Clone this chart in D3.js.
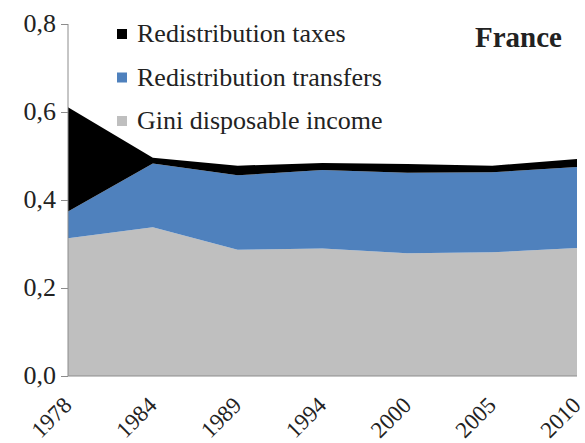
<!DOCTYPE html>
<html>
<head>
<meta charset="utf-8">
<script src="https://cdn.jsdelivr.net/npm/d3@7"></script>
<style>
body { margin: 0; background: #fff; }
text { font-family: "Liberation Serif", "DejaVu Serif", serif; fill: #222; }
</style>
</head>
<body>
<div class="chart"></div>
<script>
var width = 585;
var height = 443;

var years = ["1978", "1984", "1989", "1994", "2000", "2005", "2010"];
var giniDisposable = [0.313, 0.338, 0.287, 0.290, 0.279, 0.281, 0.291];
var redistTransfers = [0.061, 0.145, 0.169, 0.178, 0.183, 0.182, 0.184];
var redistTaxes = [0.237, 0.013, 0.022, 0.016, 0.020, 0.015, 0.018];
var yTicks = [0, 0.2, 0.4, 0.6, 0.8];
var seriesNames = ["Gini disposable income", "Redistribution transfers", "Redistribution taxes"];
var seriesColors = ["#bfbfbf", "#4f81bd", "#000000"];

var plotLeft = 68, plotRight = 577, plotTop = 24, plotBottom = 376;

var x = d3.scalePoint().domain(years).range([plotLeft, plotRight]);
var y = d3.scaleLinear().domain([0, 0.8]).range([plotBottom, plotTop]);

var rows = years.map(function(yr, i) {
    return { year: yr, gini: giniDisposable[i], transfers: redistTransfers[i], taxes: redistTaxes[i] };
});
var stack = d3.stack().keys(["gini", "transfers", "taxes"]);
var layers = stack(rows);

var svg = d3.select(".chart")
    .append("svg")
    .attr("width", width)
    .attr("height", height);

var area = d3.area()
    .x(function(d) { return x(d.data.year); })
    .y0(function(d) { return y(d[0]); })
    .y1(function(d) { return y(d[1]); });

svg.selectAll(".layer")
    .data(layers)
    .enter().append("path")
    .attr("class", "layer")
    .attr("d", area)
    .attr("fill", function(d, i) { return seriesColors[i]; });

// y axis
var yAxis = d3.axisLeft(y)
    .tickValues(yTicks)
    .tickSize(7)
    .tickFormat(function(d) { return d3.format(".1f")(d).replace(".", ","); });

var yG = svg.append("g")
    .attr("transform", "translate(" + plotLeft + ",0)")
    .call(yAxis);
yG.select(".domain").attr("stroke", "#8c8c8c").attr("d", "M0," + plotTop + "V" + plotBottom);
yG.selectAll(".tick line").attr("stroke", "#8c8c8c");
yG.selectAll(".tick text")
    .attr("x", -12)
    .attr("dy", "0.3em")
    .style("font-size", "26px")
    .style("font-family", "Liberation Serif, serif")
    .attr("fill", "#222");

// x axis
var xAxis = d3.axisBottom(x).tickSize(0);
var xG = svg.append("g")
    .attr("transform", "translate(0," + plotBottom + ")")
    .call(xAxis);
xG.select(".domain").attr("stroke", "#8c8c8c").attr("d", "M" + plotLeft + ",0H" + plotRight);
xG.selectAll(".tick text")
    .style("font-size", "23px")
    .style("font-family", "Liberation Serif, serif")
    .attr("fill", "#222")
    .attr("text-anchor", "end")
    .attr("y", 0)
    .attr("dy", "0.35em")
    .attr("transform", "translate(-1,25) rotate(-45)");

// legend
var legendOrder = [2, 1, 0];
var legend = svg.selectAll(".legend")
    .data(legendOrder)
    .enter().append("g")
    .attr("class", "legend")
    .attr("transform", function(d, i) { return "translate(117," + (33 + i * 43.5) + ")"; });

legend.append("rect")
    .attr("x", 0)
    .attr("y", -4)
    .attr("width", 10)
    .attr("height", 10)
    .attr("fill", function(d) { return seriesColors[d]; });

legend.append("text")
    .attr("x", 20)
    .attr("dy", "0.35em")
    .style("font-size", "26px")
    .text(function(d) { return seriesNames[d]; });

svg.append("text")
    .attr("x", 562)
    .attr("y", 47)
    .attr("text-anchor", "end")
    .style("font-size", "29px")
    .style("font-weight", "bold")
    .attr("fill", "#000")
    .text("France");
</script>
</body>
</html>
